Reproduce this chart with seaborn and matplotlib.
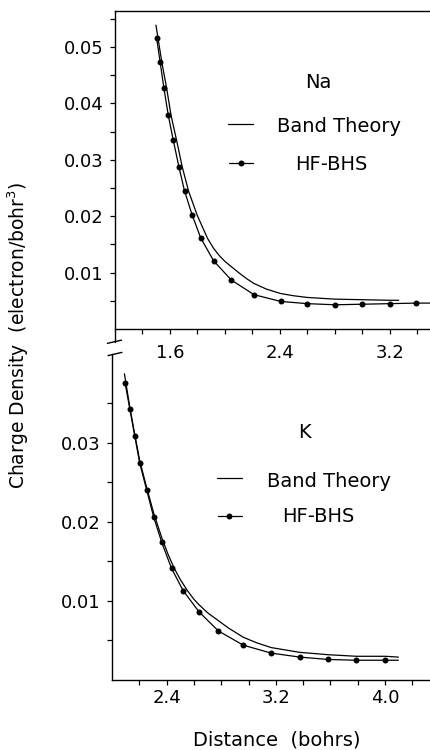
import pandas as pd
import matplotlib.pyplot as plt
import seaborn as sns

# Na: HF-BHS points (last value is where the line meets the frame, no marker)
na_hf_x = [1.503, 1.529, 1.556, 1.588, 1.624, 1.665, 1.706, 1.762, 1.825, 1.918,
           2.046, 2.211, 2.405, 2.599, 2.803, 3.001, 3.200, 3.394, 3.50]
na_hf_y = [0.0516, 0.0473, 0.0427, 0.0379, 0.0335, 0.0288, 0.0245, 0.0202, 0.0161, 0.0121,
           0.0087, 0.0061, 0.0049, 0.0045, 0.0043, 0.0044, 0.0045, 0.0046, 0.0046]
# Na: band theory curve
na_bt_x = [1.498, 1.541, 1.576, 1.608, 1.648, 1.689, 1.735, 1.798, 1.873, 1.918,
           1.960, 2.000, 2.050, 2.100, 2.160, 2.210, 2.300, 2.405, 2.500, 2.600,
           2.800, 3.000, 3.200, 3.265]
na_bt_y = [0.0539, 0.0473, 0.0427, 0.0379, 0.0335, 0.0288, 0.0245, 0.0202, 0.0161, 0.0143,
           0.0130, 0.0120, 0.0110, 0.0100, 0.0089, 0.0081, 0.0071, 0.0063, 0.0059, 0.0056,
           0.0053, 0.0052, 0.0051, 0.0051]

# K: HF-BHS points
k_hf_x = [2.096, 2.130, 2.167, 2.203, 2.254, 2.305, 2.364, 2.436, 2.521, 2.638,
          2.779, 2.962, 3.166, 3.374, 3.582, 3.790, 3.999, 4.097]
k_hf_y = [0.0375, 0.0343, 0.0308, 0.0274, 0.0240, 0.0206, 0.0174, 0.0141, 0.0113, 0.0086,
          0.0062, 0.0044, 0.0034, 0.0029, 0.0026, 0.0025, 0.0025, 0.0025]
# K: band theory curve
k_bt_x = [2.091, 2.130, 2.167, 2.203, 2.254, 2.305, 2.364, 2.410, 2.456, 2.500,
          2.552, 2.600, 2.638, 2.700, 2.779, 2.850, 2.962, 3.060, 3.166, 3.270,
          3.374, 3.582, 3.790, 3.999, 4.097]
k_bt_y = [0.0387, 0.0345, 0.0310, 0.0277, 0.0243, 0.0211, 0.0180, 0.0159, 0.0141, 0.0127,
          0.0113, 0.0102, 0.0095, 0.0085, 0.0075, 0.0066, 0.0054, 0.0047, 0.0041, 0.0038,
          0.0035, 0.0032, 0.0030, 0.0030, 0.0029]

na_hf = pd.DataFrame({'x': na_hf_x, 'y': na_hf_y})
na_bt = pd.DataFrame({'x': na_bt_x, 'y': na_bt_y})
k_hf = pd.DataFrame({'x': k_hf_x, 'y': k_hf_y})
k_bt = pd.DataFrame({'x': k_bt_x, 'y': k_bt_y})

sns.set_style('ticks')
plt.rcParams['font.family'] = ['DejaVu Sans']
plt.rcParams['text.color'] = 'black'
plt.rcParams['axes.labelcolor'] = 'black'

fig = plt.figure(figsize=(4.31, 7.5), dpi=100)
ax1 = fig.add_axes([0.2668, 0.5613, 0.7332, 0.424])
ax2 = fig.add_axes([0.2599, 0.0933, 0.7401, 0.4347])
ax2.patch.set_alpha(0)

lw = 0.9
ms = 4.3

# top panel: Na
sns.lineplot(data=na_bt, x='x', y='y', ax=ax1, color='black', lw=lw, legend=False)
sns.lineplot(data=na_hf, x='x', y='y', ax=ax1, color='black', lw=lw, marker='o',
             markersize=ms, markeredgewidth=0, markevery=list(range(len(na_hf_x) - 1)),
             legend=False)
ax1.set_xlim(1.2, 3.5)
ax1.set_ylim(0, 0.0564)
ax1.set_xticks([1.6, 2.4, 3.2])
ax1.set_xticks([1.4, 1.8, 2.0, 2.2, 2.6, 2.8, 3.0, 3.4], minor=True)
ax1.set_yticks([0.01, 0.02, 0.03, 0.04, 0.05])
ax1.set_yticklabels(['0.01', '0.02', '0.03', '0.04', '0.05'])
ax1.set_yticks([0.005, 0.015, 0.025, 0.035, 0.045, 0.055], minor=True)
ax1.spines['right'].set_visible(False)
ax1.tick_params(axis='x', which='major', pad=7)

# bottom panel: K
sns.lineplot(data=k_bt, x='x', y='y', ax=ax2, color='black', lw=lw, legend=False)
sns.lineplot(data=k_hf, x='x', y='y', ax=ax2, color='black', lw=lw, marker='o',
             markersize=ms, markeredgewidth=0, markevery=list(range(len(k_hf_x) - 1)),
             legend=False)
ax2.set_xlim(2.0, 4.336)
ax2.set_ylim(0, 0.0412)
ax2.set_xticks([2.4, 3.2, 4.0])
ax2.set_xticklabels(['2.4', '3.2', '4.0'])
ax2.set_xticks([2.2, 2.6, 2.8, 3.0, 3.4, 3.6, 3.8, 4.2], minor=True)
ax2.set_yticks([0.01, 0.02, 0.03])
ax2.set_yticklabels(['0.01', '0.02', '0.03'])
ax2.set_yticks([0.005, 0.015, 0.025, 0.035], minor=True)
ax2.spines['right'].set_visible(False)
ax2.spines['top'].set_visible(False)
ax2.tick_params(axis='x', which='major', pad=3)

for ax in (ax1, ax2):
    ax.set_xlabel('')
    ax.set_ylabel('')
    for s in ax.spines.values():
        s.set_linewidth(1.0)
        s.set_color('black')
    ax.tick_params(which='both', direction='out', length=3.5, width=0.9,
                   colors='black', labelsize=13)
    ax.tick_params(axis='y', which='major', pad=5)

# legends and element labels
ax1.text(0.601, 0.757, 'Na', transform=ax1.transAxes, fontsize=14, va='baseline')
ax1.plot([0.358, 0.437], [0.645, 0.645], transform=ax1.transAxes, color='black', lw=lw)
ax1.text(0.513, 0.620, 'Band Theory', transform=ax1.transAxes, fontsize=14, va='baseline')
ax1.plot([0.361, 0.437], [0.522, 0.522], transform=ax1.transAxes, color='black', lw=lw)
ax1.plot([0.399], [0.522], transform=ax1.transAxes, color='black', marker='o',
         markersize=ms, markeredgewidth=0)
ax1.text(0.570, 0.500, 'HF-BHS', transform=ax1.transAxes, fontsize=14, va='baseline')

ax2.text(0.583, 0.743, 'K', transform=ax2.transAxes, fontsize=14, va='baseline')
ax2.plot([0.328, 0.407], [0.619, 0.619], transform=ax2.transAxes, color='black', lw=lw)
ax2.text(0.485, 0.593, 'Band Theory', transform=ax2.transAxes, fontsize=14, va='baseline')
ax2.plot([0.332, 0.407], [0.504, 0.504], transform=ax2.transAxes, color='black', lw=lw)
ax2.plot([0.367], [0.504], transform=ax2.transAxes, color='black', marker='o',
         markersize=ms, markeredgewidth=0)
ax2.text(0.532, 0.484, 'HF-BHS', transform=ax2.transAxes, fontsize=14, va='baseline')

# axis break on the y axis
ax1.plot([0, 0], [0, -0.041], transform=ax1.transAxes, color='black', lw=1.0, clip_on=False)
ax1.plot([-0.024, 0.021], [-0.045, -0.035], transform=ax1.transAxes, color='black',
         lw=1.0, clip_on=False)
ax2.plot([-0.0125, 0.031], [0.995, 1.005], transform=ax2.transAxes, color='black',
         lw=1.0, clip_on=False)

fig.text(0.042, 0.553, 'Charge Density  (electron/bohr$^{3}$)', rotation=90,
         ha='center', va='center', fontsize=13.5)
fig.text(0.643, 0.0133, 'Distance  (bohrs)', ha='center', va='center', fontsize=14)

fig.savefig('out.png', dpi=100)
